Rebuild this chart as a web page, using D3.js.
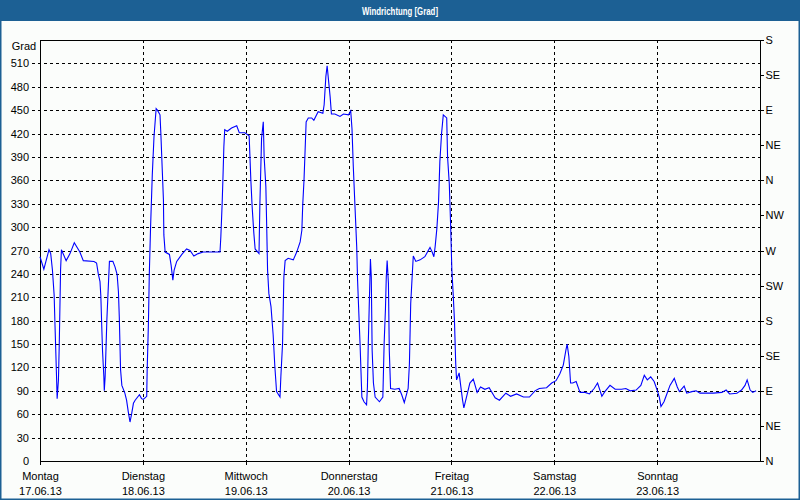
<!DOCTYPE html>
<html><head><meta charset="utf-8">
<script src="https://cdn.jsdelivr.net/npm/d3@7"></script>
<style>
html,body{margin:0;padding:0;background:#fbfdfb;}
svg{display:block;}
text{font-family:"Liberation Sans",Arial,sans-serif;font-size:11px;fill:#000;}
</style></head><body>
<svg id="c" width="800" height="500"></svg>
<script>
const title = "Windrichtung [Grad]";
const yLabel = "Grad";
const dayNames = ["Montag","Dienstag","Mittwoch","Donnerstag","Freitag","Samstag","Sonntag"];
const dayDates = ["17.06.13","18.06.13","19.06.13","20.06.13","21.06.13","22.06.13","23.06.13"];
const dayHours = [0,24,48,72,96,120,144];
const yTicks = [0,30,60,90,120,150,180,210,240,270,300,330,360,390,420,450,480,510];
const compassTicks = [0,45,90,135,180,225,270,315,360,405,450,495,540];
const compassLabels = ["N","NE","E","SE","S","SW","W","NW","N","NE","E","SE","S"];

// hours since Monday 17.06.13 00:00
const hours = [0,0.9,2.1,2.5,2.9,3.3,3.5,3.7,3.9,4.0,4.3,4.5,4.8,5.0,6.1,7.0,8.0,9.3,10.1,12.6,
13.2,13.6,14.0,14.2,14.4,14.6,14.9,15.0,15.2,15.6,15.8,16.2,17.0,17.5,18.0,18.3,18.5,18.8,19.1,19.8,
20.2,20.6,21.0,21.4,21.8,22.2,23.2,23.7,24.1,24.9,25.0,25.3,25.5,25.8,26.2,26.6,27.1,27.4,28.0,28.2,
28.5,28.8,28.9,29.2,30.2,30.6,31.0,31.3,31.9,33.1,34.2,35.0,35.9,36.9,38.1,39.3,40.4,42.0,42.2,42.5,
42.7,42.9,43.1,43.7,44.7,45.9,46.5,47.8,48.8,49.2,49.5,49.9,50.2,51.1,51.3,51.7,52.1,52.3,52.7,52.9,
53.1,53.4,53.9,54.4,54.8,55.2,56.0,56.2,56.6,56.9,57.2,57.9,59.1,59.9,60.7,61.1,61.3,61.6,61.8,62.1,
62.6,63.4,63.9,64.9,66.0,66.3,66.7,67.0,67.4,67.7,68.0,68.8,70.0,70.8,72.0,72.5,72.8,73.1,73.5,73.9,
74.1,74.4,74.7,75.1,75.6,76.2,76.4,76.6,76.8,77.1,77.3,77.5,77.8,78.2,79.2,80.0,80.3,80.6,80.8,81.0,
81.3,81.5,81.8,82.8,83.8,84.4,85.0,85.6,85.9,86.2,86.5,86.9,87.1,87.7,88.7,89.8,90.6,91.0,91.5,91.9,
92.2,92.6,93.0,93.3,93.7,94.1,94.9,95.1,95.5,95.8,96.1,96.4,96.7,97.0,97.2,97.6,97.8,98.2,98.6,98.9,
99.6,100.3,101.1,102.0,102.8,103.8,104.8,106.2,107.2,108.7,109.8,111.2,112.8,114.2,115.5,116.5,118.2,119.4,120.4,121.3,
122.1,122.7,123.0,123.4,123.8,124.3,125.1,126.0,127.2,128.2,129.3,130.1,131.1,131.8,133.0,134.2,135.7,136.7,137.7,139.1,
140.2,141.0,141.7,142.5,143.3,144.0,144.5,144.9,145.6,146.2,147.0,148.0,148.7,149.2,150.3,150.9,152.1,153.1,154.0,157.1,
159.1,160.1,160.9,162.6,163.7,164.5,165.0,165.7,166.3,167.1];
const values = [262,246,271,266,245,213,174,138,100,80,104,151,245,271,257,266,280,268,257,256,
254,240,230,211,174,140,108,90,108,181,206,256,256,249,239,217,185,117,97,87,
78,63,50,61,74,78,85,80,79,83,115,177,239,300,367,416,452,450,444,420,
377,335,290,268,265,251,232,245,256,265,272,270,263,266,268,268,268,268,288,330,
365,403,425,423,427,430,421,421,417,360,326,292,272,266,328,414,435,390,352,300,
245,215,198,162,121,89,82,108,151,236,257,260,258,268,281,296,328,360,390,435,
440,440,437,448,446,457,493,507,484,467,445,445,442,445,444,449,426,378,326,275,
232,189,147,82,76,72,95,151,194,259,236,142,100,82,76,82,151,194,236,257,
228,142,93,92,93,85,75,87,93,125,202,243,263,256,258,262,270,274,268,262,
275,298,333,384,420,444,440,390,356,305,245,215,181,125,104,110,113,95,78,68,
84,100,105,88,95,92,94,81,78,87,83,86,82,82,90,93,94,100,103,112,
123,142,150,134,100,100,102,88,88,86,93,100,83,89,97,92,92,93,90,91,
97,110,104,108,102,91,82,70,76,85,97,106,95,89,96,87,89,90,87,87,
88,91,86,87,91,97,104,91,88,90];

const svg = d3.select("#c");
const W = 800, H = 500;
const L = 40, R = 760, T = 40, B = 461;

// background and frame
svg.append("rect").attr("x",0).attr("y",0).attr("width",W).attr("height",H).attr("fill","#fbfdfb");
svg.append("rect").attr("x",0).attr("y",0).attr("width",W).attr("height",21).attr("fill","#1c6094");
svg.append("rect").attr("x",0.75).attr("y",0.75).attr("width",W-1.5).attr("height",H-1.5)
  .attr("fill","none").attr("stroke","#1c6094").attr("stroke-width",1.5);
svg.append("text").attr("x",W/2).attr("y",15).attr("text-anchor","middle")
  .attr("textLength",76).attr("lengthAdjust","spacingAndGlyphs")
  .style("font-weight","bold").style("fill","#ffffff").text(title);

const x = d3.scaleLinear().domain([0,168]).range([L,R]);
const y = d3.scaleLinear().domain([0,540]).range([B,T]);

// horizontal dashed grid (extends a bit left of the axis)
svg.append("g").selectAll("line").data(yTicks.filter(v=>v>0)).join("line")
  .attr("x1",32).attr("x2",R).attr("y1",d=>Math.round(y(d))+0.5).attr("y2",d=>Math.round(y(d))+0.5)
  .attr("stroke","#000").attr("stroke-width",1).attr("stroke-dasharray","3,3")
  .attr("shape-rendering","crispEdges");
// vertical dashed grid at days
svg.append("g").selectAll("line").data(dayHours.filter(h=>h>0)).join("line")
  .attr("x1",d=>Math.round(x(d))+0.5).attr("x2",d=>Math.round(x(d))+0.5).attr("y1",T).attr("y2",B+3)
  .attr("stroke","#000").attr("stroke-width",1).attr("stroke-dasharray","3,3")
  .attr("shape-rendering","crispEdges");

// left axis labels
const yAxis = d3.axisLeft(y).tickValues(yTicks).tickSize(0).tickPadding(0);
const gy = svg.append("g").attr("transform",`translate(${L-11},0)`).call(yAxis);
gy.select(".domain").remove();
gy.selectAll("text").style("font-family","Liberation Sans, Arial, sans-serif").style("font-size","11px").attr("fill","#000");
svg.append("text").attr("x",24).attr("y",50).attr("text-anchor","middle").text(yLabel);

// right compass axis
const rAxis = d3.axisRight(y).tickValues(compassTicks).tickFormat((d,i)=>compassLabels[i]).tickSize(3).tickPadding(2);
const gr = svg.append("g").attr("transform",`translate(${R+0.5},0)`).call(rAxis);
gr.select(".domain").remove();
gr.selectAll("line").attr("stroke","#000").attr("shape-rendering","crispEdges");
gr.selectAll("text").style("font-family","Liberation Sans, Arial, sans-serif").style("font-size","11px").attr("fill","#000");

// bottom axis with two-line labels
const xAxis = d3.axisBottom(x).tickValues(dayHours).tickSize(3).tickFormat(()=> "");
const gx = svg.append("g").attr("transform",`translate(0,${B+0.5})`).call(xAxis);
gx.select(".domain").remove();
gx.selectAll("line").attr("stroke","#000").attr("shape-rendering","crispEdges");
gx.selectAll(".tick").each(function(d,i){
  const t = d3.select(this);
  t.append("text").attr("y",18).attr("text-anchor","middle").attr("fill","#000")
    .style("font-family","Liberation Sans, Arial, sans-serif").style("font-size","11px").text(dayNames[i]);
  t.append("text").attr("y",33).attr("text-anchor","middle").attr("fill","#000")
    .style("font-family","Liberation Sans, Arial, sans-serif").style("font-size","11px").text(dayDates[i]);
});

// plot frame
svg.append("rect").attr("x",L+0.5).attr("y",T+0.5).attr("width",R-L).attr("height",B-T)
  .attr("fill","none").attr("stroke","#000").attr("stroke-width",1).attr("shape-rendering","crispEdges");

// data line
const pts = hours.map((h,i)=>[h,values[i]]);
svg.append("path").datum(pts)
  .attr("d", d3.line().x(d=>x(d[0])).y(d=>y(d[1])))
  .attr("fill","none").attr("stroke","#0000ff").attr("stroke-width",1.1);
</script>
</body></html>
